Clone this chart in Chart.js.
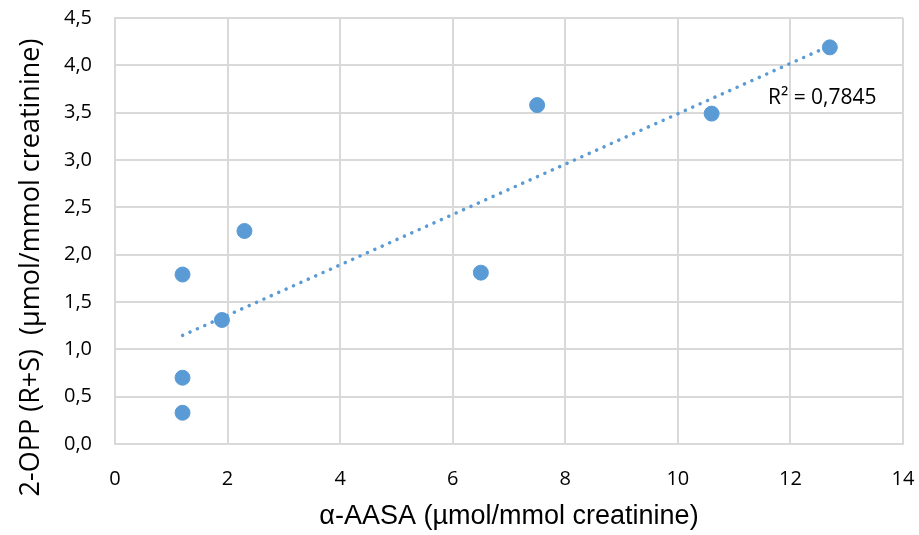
<!DOCTYPE html>
<html>
<head>
<meta charset="utf-8">
<script src="https://cdn.jsdelivr.net/npm/chart.js@4.4.1/dist/chart.umd.min.js"></script>
<style>
  html, body { margin: 0; padding: 0; background: #ffffff; }
  #wrap { width: 919px; height: 535px; }
</style>
</head>
<body>
<div id="wrap"><canvas id="chart" width="919" height="535"></canvas></div>
<script>
// α-AASA vs 2-OPP (R+S), both in µmol/mmol creatinine
const aasa = [1.2, 1.2, 1.2, 1.9, 2.3, 6.5, 7.5, 10.6, 12.7];
const opp = [0.33, 0.70, 1.79, 1.31, 2.25, 1.81, 3.58, 3.49, 4.19];

const xTicks = [0, 2, 4, 6, 8, 10, 12, 14];
const yTicks = [0, 0.5, 1, 1.5, 2, 2.5, 3, 3.5, 4, 4.5];
const r2Text = "R² = 0,7845";
const yTitle = "2-OPP (R+S)  (µmol/mmol creatinine)";

const blue = "#5b9bd5";
const grid = "#d9d9d9";

// least-squares fit for the linear trend line
function linearFit(xs, ys) {
  const n = xs.length;
  const mx = xs.reduce((a, b) => a + b, 0) / n;
  const my = ys.reduce((a, b) => a + b, 0) / n;
  let sxx = 0, sxy = 0;
  for (let i = 0; i < n; i++) {
    sxx += (xs[i] - mx) ** 2;
    sxy += (xs[i] - mx) * (ys[i] - my);
  }
  const slope = sxy / sxx;
  return { slope, intercept: my - slope * mx };
}

const fit = linearFit(aasa, opp);
const xMin = Math.min(...aasa), xMax = Math.max(...aasa);
const trend = [xMin, xMax].map(x => ({ x, y: fit.intercept + fit.slope * x }));

const comma = v => v.toFixed(1).replace(".", ",");

// R² text next to the trend line, plus the y title centred on the whole canvas
const extraText = {
  id: "extraText",
  afterDatasetsDraw(chart) {
    const { ctx, scales, height } = chart;
    ctx.save();
    ctx.fillStyle = "#000";
    ctx.textBaseline = "middle";
    ctx.font = "21px 'Open Sans'";
    ctx.fillText(r2Text, scales.x.getPixelForValue(11.6), scales.y.getPixelForValue(3.66));

    ctx.translate(31, height / 2);
    ctx.rotate(-Math.PI / 2);
    ctx.textAlign = "center";
    ctx.font = "27px 'Open Sans'";
    ctx.fillText(yTitle, 0, 0);
    ctx.restore();
  }
};

new Chart(document.getElementById("chart"), {
  type: "scatter",
  plugins: [extraText],
  data: {
    datasets: [
      {
        data: aasa.map((x, i) => ({ x, y: opp[i] })),
        backgroundColor: blue,
        borderColor: blue,
        pointRadius: 7.5,
        pointHoverRadius: 7.5,
        order: 1,
      },
      {
        type: "line",
        data: trend,
        borderColor: blue,
        borderWidth: 3.5,
        borderDash: [0.1, 8],
        borderCapStyle: "round",
        pointRadius: 0,
        fill: false,
        order: 2,
      },
    ],
  },
  options: {
    responsive: false,
    animation: false,
    layout: { padding: { top: 18, right: 16, left: 0, bottom: 0 } },
    plugins: {
      legend: { display: false },
      tooltip: { enabled: false },
    },
    scales: {
      x: {
        type: "linear",
        min: 0,
        max: 14,
        afterBuildTicks: s => { s.ticks = xTicks.map(value => ({ value })); },
        afterFit: s => { s.height = 91; s.paddingLeft = 0; s.paddingRight = 0; },
        grid: { color: grid, lineWidth: 2, drawTicks: false },
        border: { color: grid, width: 2 },
        ticks: {
          padding: 23,
          color: "#000",
          font: { family: "'Open Sans'", size: 20 },
          callback: v => String(v),
        },
        title: {
          display: true,
          text: "α-AASA (µmol/mmol creatinine)",
          color: "#000",
          font: { family: "'Liberation Sans', Arial", size: 27 },
          padding: { top: 0, bottom: 2 },
        },
      },
      y: {
        type: "linear",
        min: 0,
        max: 4.5,
        afterBuildTicks: s => { s.ticks = yTicks.map(value => ({ value })); },
        afterFit: s => { s.width = 115; s.paddingTop = 0; s.paddingBottom = 0; },
        grid: { color: grid, lineWidth: 2, drawTicks: false },
        border: { color: grid, width: 2 },
        ticks: {
          padding: 23,
          color: "#000",
          font: { family: "'Open Sans'", size: 20 },
          callback: v => comma(v),
        },
        title: { display: false },
      },
    },
  },
});
</script>
</body>
</html>
